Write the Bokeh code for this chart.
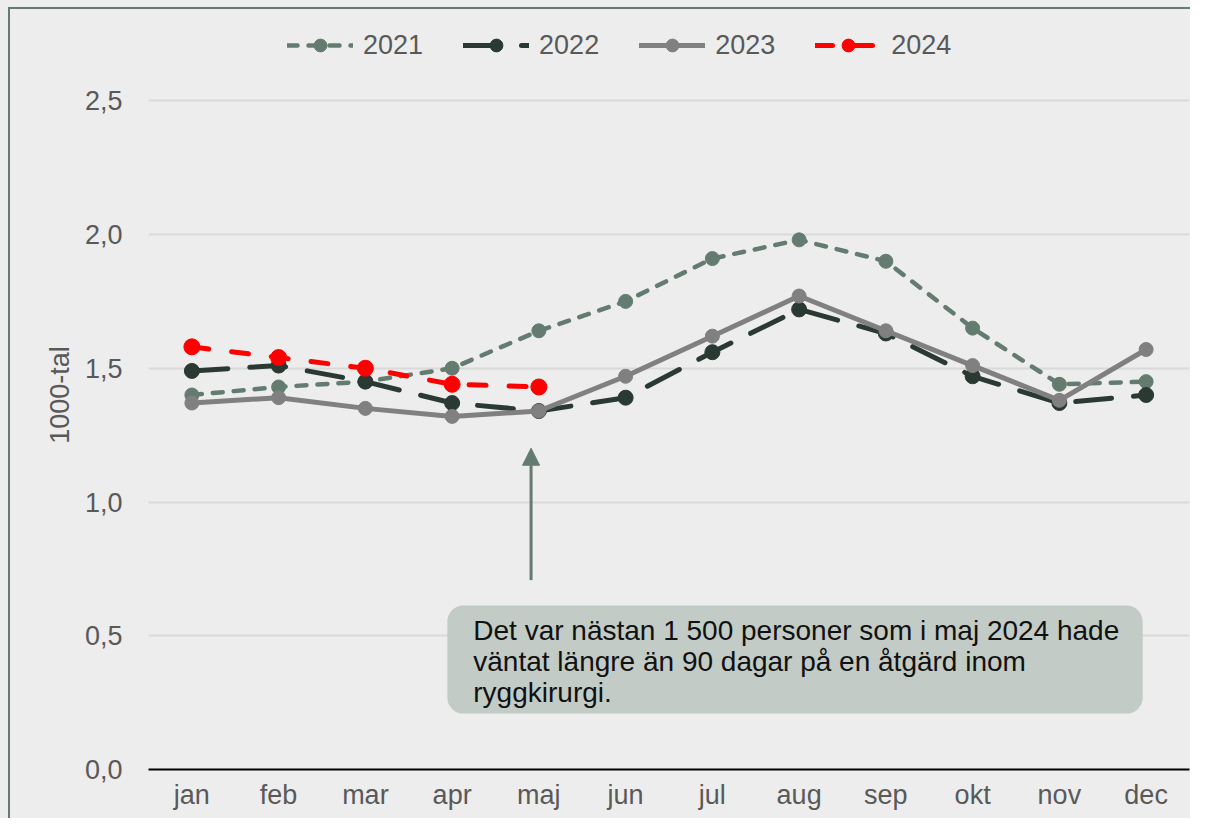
from bokeh.plotting import figure
from bokeh.models import (FactorRange, Range1d, FixedTicker, Legend, LegendItem,
                          Label, BoxAnnotation, Arrow, NormalHead)
from bokeh.embed import file_html
from bokeh.resources import INLINE

months = ["jan", "feb", "mar", "apr", "maj", "jun", "jul", "aug", "sep", "okt", "nov", "dec"]
v2021 = [1.40, 1.43, 1.45, 1.50, 1.64, 1.75, 1.91, 1.98, 1.90, 1.65, 1.44, 1.45]
v2022 = [1.49, 1.51, 1.45, 1.37, 1.34, 1.39, 1.56, 1.72, 1.63, 1.47, 1.37, 1.40]
v2023 = [1.37, 1.39, 1.35, 1.32, 1.34, 1.47, 1.62, 1.77, 1.64, 1.51, 1.38, 1.57]
v2024 = [1.58, 1.54, 1.50, 1.44, 1.43]
years = ["2021", "2022", "2023", "2024"]
y_ticks = [0.0, 0.5, 1.0, 1.5, 2.0, 2.5]
y_tick_labels = ["0,0", "0,5", "1,0", "1,5", "2,0", "2,5"]
y_title = "1000-tal"
note = "Det var nästan 1 500 personer som i maj 2024 hade\nväntat längre än 90 dagar på en åtgärd inom\nryggkirurgi."

FONT = "Liberation Sans"
TXT = "#595959"
BG = "#ededed"
GREEN = "#647c70"

styles = [
    dict(color=GREEN, dash="10 11", width=4.5, size=14),
    dict(color="#2a3a33", dash="36 22", width=5, size=15),
    dict(color="#808080", dash="solid", width=5, size=14),
    dict(color="#ff0000", dash="17 23", width=5, size=16),
]
values = [v2021, v2022, v2023, v2024]

p = figure(x_range=FactorRange(*months), y_range=Range1d(0, 2.8),
           width=1190, height=818, output_backend="svg", toolbar_location=None,
           min_border_left=148, min_border_right=1, min_border_top=20, min_border_bottom=49,
           background_fill_color=BG, border_fill_color=BG, border_fill_alpha=0)
p.styles = {
    "background": (f"linear-gradient({GREEN},{GREEN}) 8px 7px / 2px 100% no-repeat, "
                   f"linear-gradient({GREEN},{GREEN}) 8px 7px / 100% 2px no-repeat, {BG}")
}
p.outline_line_color = None

items = []
for yr, vals, st in zip(years, values, styles):
    xs = months[:len(vals)]
    lr = p.line(xs, vals, line_color=st["color"], line_width=st["width"],
                line_dash=st["dash"], line_cap="round", line_join="round")
    sr = p.scatter(xs, vals, size=st["size"], fill_color=st["color"], line_color=st["color"])
    items.append(LegendItem(label=yr, renderers=[lr, sr]))

legend = Legend(items=items, orientation="horizontal", location=(139, 708),
                padding=0, margin=0, spacing=40, label_standoff=10,
                glyph_width=66, glyph_height=32,
                background_fill_alpha=0, border_line_color=None,
                label_text_font=FONT, label_text_font_size="27px", label_text_color=TXT)
p.add_layout(legend)

# axes
p.xgrid.grid_line_color = None
p.ygrid.grid_line_color = "#d9d9d9"
p.ygrid.grid_line_width = 2
p.yaxis.ticker = FixedTicker(ticks=y_ticks)
p.yaxis.major_label_overrides = dict(zip(y_ticks, y_tick_labels))
p.yaxis.axis_line_color = None
p.yaxis.major_tick_line_color = None
p.yaxis.minor_tick_line_color = None
p.yaxis.major_label_standoff = 20
p.yaxis.axis_label = y_title
p.yaxis.axis_label_standoff = 7
p.yaxis.axis_label_text_font_style = "normal"
p.yaxis.axis_label_text_font = FONT
p.yaxis.axis_label_text_font_size = "27px"
p.yaxis.axis_label_text_color = TXT

p.xaxis.axis_line_color = "black"
p.xaxis.axis_line_width = 2
p.xaxis.major_tick_line_color = None
p.xaxis.minor_tick_line_color = None
p.xaxis.major_tick_out = 0
p.xaxis.major_label_standoff = 10

for ax in (p.xaxis, p.yaxis):
    ax.major_label_text_font = FONT
    ax.major_label_text_font_size = "27px"
    ax.major_label_text_color = TXT

# annotation box + arrow
box = BoxAnnotation(left=3.445, right=11.46, bottom=0.209, top=0.613,
                    fill_color="#c2cbc5", fill_alpha=1, line_color=None, border_radius=16)
p.add_layout(box)
lab = Label(x=3.744, y=0.578, text=note, text_align="left", text_baseline="top",
            text_font=FONT, text_font_size="28px", text_color="#111111", text_line_height=1.0)
p.add_layout(lab)
arrow = Arrow(end=NormalHead(size=17, fill_color=GREEN, line_color=GREEN),
              x_start=4.41, y_start=0.708, x_end=4.41, y_end=1.201,
              line_color=GREEN, line_width=3)
p.add_layout(arrow)

open("out.html", "w").write(file_html(p, INLINE))
